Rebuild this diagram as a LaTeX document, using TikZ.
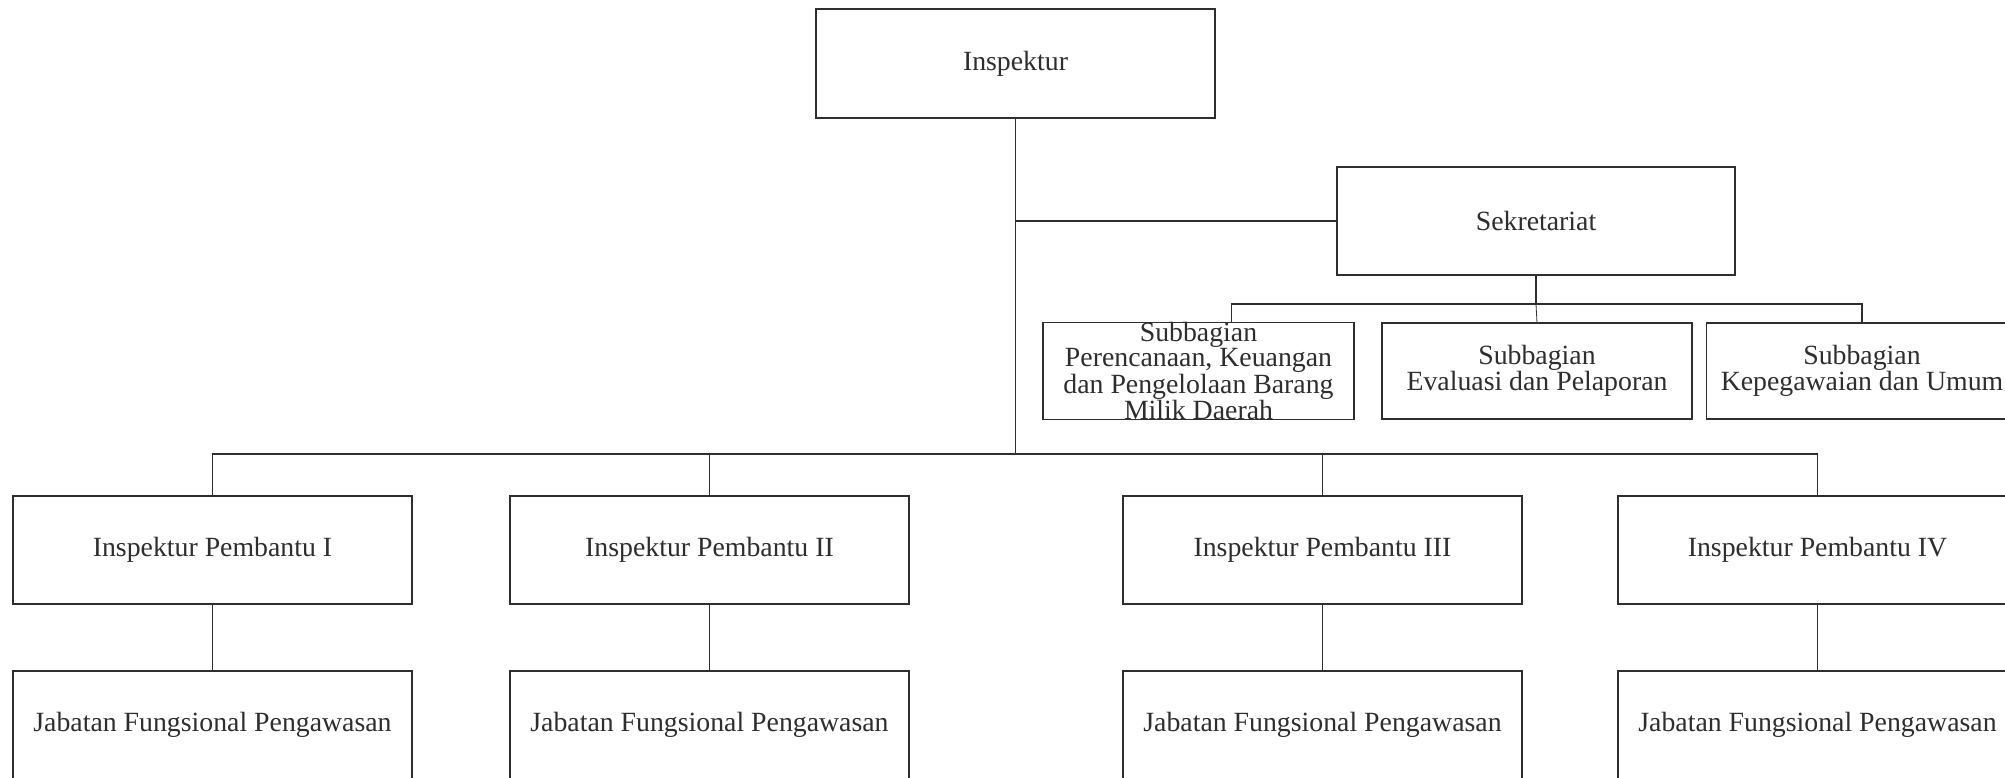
\documentclass[tikz,border=0pt]{standalone}
\usepackage{fontspec}
\setmainfont{Liberation Serif}
\usetikzlibrary{calc}
\definecolor{ink}{HTML}{2E2E2E}
\begin{document}
\begin{tikzpicture}[x=1pt,y=-1pt,
  unit/.style={draw=ink,line width=1.4pt,rectangle,inner sep=0pt,outer sep=0pt,
    text=ink,align=center,font=\fontsize{27.8}{23.5}\selectfont},
  big/.style={unit,minimum width=399pt,minimum height=108pt},
  small/.style={unit,minimum width=311pt,minimum height=96pt},
  link/.style={draw=ink,line width=1.2pt}]
\clip (0,0) rectangle (2005,778);
\fill[white] (0,0) rectangle (2005,778);
% top
\node[big,minimum height=109pt] (insp) at (1015.5,63.5) {Inspektur};
\node[big,minimum width=398pt] (sek) at (1536,221) {Sekretariat};
% subbagian
\node[small] (sub1) at (1198.5,371) {Subbagian\\Perencanaan, Keuangan\\dan Pengelolaan Barang\\Milik Daerah};
\node[small,minimum width=310pt] (sub2) at (1537,371) {Subbagian\\Evaluasi dan Pelaporan};
\node[small] (sub3) at (1862,371) {Subbagian\\Kepegawaian dan Umum};
% inspektur pembantu
\node[big] (ip1) at (212.5,550) {Inspektur Pembantu I};
\node[big] (ip2) at (709.5,550) {Inspektur Pembantu II};
\node[big] (ip3) at (1322.5,550) {Inspektur Pembantu III};
\node[big] (ip4) at (1817.5,550) {Inspektur Pembantu IV};
% jabatan
\node[big] (jf1) at (212.5,725) {Jabatan Fungsional Pengawasan};
\node[big] (jf2) at (709.5,725) {Jabatan Fungsional Pengawasan};
\node[big] (jf3) at (1322.5,725) {Jabatan Fungsional Pengawasan};
\node[big] (jf4) at (1817.5,725) {Jabatan Fungsional Pengawasan};
% coordinates
\coordinate (bus) at (insp.south |- 0,454);
\coordinate (sbus) at (sek.south |- 0,304);
\coordinate (s1) at ($(sub1.north west)!0.605!(sub1.north east)$);
% connectors
\draw[link] (insp.south) -- (bus);
\draw[link] (sek.west) -- (sek.west -| insp.south);
\draw[link] (ip1.north) |- (bus) -| (ip4.north);
\draw[link] (ip2.north) -- (ip2.north |- bus);
\draw[link] (ip3.north) -- (ip3.north |- bus);
\draw[link] (sek.south) -- (sbus);
\draw[link] (s1) |- (sbus) -| (sub3.north);
\draw[link,line width=0.8pt] (sbus) -- (sub2.north);
\draw[link] (ip1.south) -- (jf1.north);
\draw[link] (ip2.south) -- (jf2.north);
\draw[link] (ip3.south) -- (jf3.north);
\draw[link] (ip4.south) -- (jf4.north);
\end{tikzpicture}
\end{document}
